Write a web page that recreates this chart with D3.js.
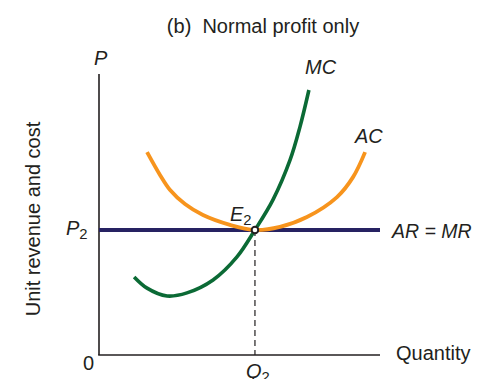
<!DOCTYPE html>
<html><head><meta charset="utf-8">
<script src="https://cdn.jsdelivr.net/npm/d3@7"></script>
<style>body{margin:0;background:#fff}svg{display:block;font-family:"Liberation Sans",Arial,sans-serif}text{white-space:pre}</style>
</head><body>
<svg id="c" width="494" height="379"></svg>
<script>
// Data (units: 0..100 on both axes)
const acX = [17.1, 21.7, 25.3, 30.6, 37.0, 46.6, 55.5, 64.4, 74.0, 84.7, 90.4, 94.7];
const acY = [72.2, 64.1, 58.7, 53.7, 49.8, 46.3, 44.5, 45.6, 49.1, 56.2, 63.3, 72.2];
const mcX = [12.5, 17.1, 24.2, 31.3, 40.6, 49.1, 55.5, 61.9, 68.0, 71.5, 74.7];
const mcY = [27.8, 23.8, 21.0, 22.1, 26.7, 34.9, 44.5, 55.2, 69.4, 81.1, 94.3];
const priceP2 = [44.5];
const quantityQ2 = [55.5];
const arX = [0, 100];

const svg = d3.select("#c");
const x = d3.scaleLinear().domain([0, 100]).range([99, 380]);
const y = d3.scaleLinear().domain([0, 100]).range([355, 74]);

const line = d3.line().x(d => x(d[0])).y(d => y(d[1])).curve(d3.curveCatmullRom.alpha(0.5));

// Axes
svg.append("line").attr("x1", x(0)).attr("x2", x(0)).attr("y1", y(100)).attr("y2", y(0))
  .attr("stroke", "#231f20").attr("stroke-width", 1.6);
svg.append("line").attr("x1", x(0) - 0.8).attr("x2", x(100)).attr("y1", y(0)).attr("y2", y(0))
  .attr("stroke", "#231f20").attr("stroke-width", 1.6);

// Dashed drop line
svg.append("line").attr("x1", x(quantityQ2[0])).attr("x2", x(quantityQ2[0]))
  .attr("y1", y(priceP2[0])).attr("y2", y(0))
  .attr("stroke", "#231f20").attr("stroke-width", 1.2).attr("stroke-dasharray", "6,4");

// AR = MR
svg.append("line").attr("x1", x(arX[0])).attr("x2", x(arX[1]))
  .attr("y1", y(priceP2[0])).attr("y2", y(priceP2[0]))
  .attr("stroke", "#262262").attr("stroke-width", 4);

// AC
svg.append("path").datum(acX.map((v, i) => [v, acY[i]])).attr("d", line)
  .attr("fill", "none").attr("stroke", "#f7941d").attr("stroke-width", 3.8).attr("stroke-linecap", "butt");

// MC
svg.append("path").datum(mcX.map((v, i) => [v, mcY[i]])).attr("d", line)
  .attr("fill", "none").attr("stroke", "#0b6a35").attr("stroke-width", 3.6).attr("stroke-linecap", "butt");

// E2 point
svg.append("circle").attr("cx", x(quantityQ2[0])).attr("cy", y(priceP2[0])).attr("r", 3.3)
  .attr("fill", "#fff").attr("stroke", "#231f20").attr("stroke-width", 2);

// Text
function lab(px, py, main, sub, opts = {}) {
  const size = opts.size || 20;
  const t = svg.append("text").attr("x", px).attr("y", py)
    .attr("font-size", size).attr("fill", "#231f20")
    .attr("text-anchor", opts.anchor || "start");
  if (opts.italic) t.attr("font-style", "italic");
  t.append("tspan").text(main);
  if (sub) t.append("tspan").attr("font-size", size * 0.74).attr("font-style", "normal").attr("dy", 4).text(sub);
  return t;
}
lab(263, 33, "(b)  Normal profit only", null, {anchor: "middle"});
lab(94, 65, "P", null, {italic: true});
lab(305, 74, "MC", null, {italic: true});
lab(355, 143, "AC", null, {italic: true});
lab(230, 221, "E", "2", {italic: true, size: 20});
lab(66, 235, "P", "2", {italic: true});
lab(392, 238, "AR = MR", null, {italic: true, size: 19.5});
lab(396, 360, "Quantity", null, {});
lab(83, 370, "0", null, {});
lab(246, 378, "Q", "2", {italic: true});
svg.append("text").attr("transform", "translate(40,219) rotate(-90)")
  .attr("text-anchor", "middle").attr("font-size", 20).attr("fill", "#231f20")
  .text("Unit revenue and cost");
</script>
</body></html>
